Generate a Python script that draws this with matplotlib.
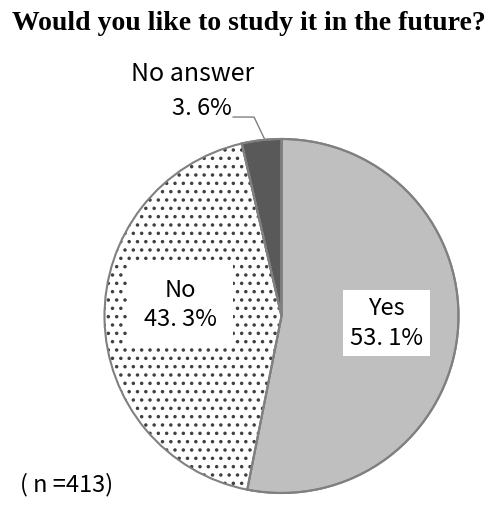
import matplotlib.pyplot as plt

plt.rcParams['font.family'] = ['Noto Sans CJK JP', 'DejaVu Sans']
plt.rcParams['hatch.linewidth'] = 1.3

labels = ['Yes', 'No', 'No answer']
values = [53.1, 43.3, 3.6]
pct_text = ['53. 1%', '43. 3%', '3. 6%']
colors = ['#bfbfbf', 'white', '#595959']
n_total = 413

W, H = 496, 505
fig = plt.figure(figsize=(W / 100, H / 100), dpi=100)

# square axes, pie radius 177px centred at (281.5, 316)
cx, cy, r = 281.5, 316, 177
half = 200
ax = fig.add_axes([(cx - half) / W, (H - cy - half) / H, 2 * half / W, 2 * half / H])
wedges, _ = ax.pie(values, colors=colors, startangle=90, counterclock=False,
                   wedgeprops=dict(edgecolor='#808080', linewidth=1.5))
# dotted fill for "No": hatch drawn in dark grey, outline redrawn on top
wedges[1].set_hatch('..')
wedges[1].set_edgecolor('#404040')
wedges[1].set_linewidth(0)
ax.pie(values, colors=['none'] * 3, startangle=90, counterclock=False,
       wedgeprops=dict(edgecolor='#808080', linewidth=1.5))
lim = half / r
ax.set_xlim(-lim, lim)
ax.set_ylim(-lim, lim)
ax.set_aspect('equal')
ax.axis('off')

fs = 17
ax.text(0.593, -0.042, labels[0] + '\n' + pct_text[0], ha='center', va='center',
        fontsize=fs, linespacing=1.35, bbox=dict(facecolor='white', edgecolor='none', pad=5))
ax.text(-0.573, 0.062, labels[1] + '\n' + pct_text[1], ha='center', va='center',
        fontsize=fs, linespacing=1.35, bbox=dict(facecolor='white', edgecolor='none', pad=12))
ax.text(-0.50, 1.367, labels[2], ha='center', va='center', fontsize=18)
ax.text(-0.449, 1.175, pct_text[2], ha='center', va='center', fontsize=fs)
ax.plot([-0.273, -0.155, -0.093], [1.124, 1.124, 0.994], color='#808080', lw=1, clip_on=False)

fig.text(248.5 / W, 1 - 30 / H, 'Would you like to study it in the future?', ha='center',
         va='baseline', fontsize=20, fontweight='bold', family='Liberation Serif')
fig.text(20 / W, 1 - 485 / H, '( n =%d)' % n_total, ha='left', va='center', fontsize=17)

fig.savefig('out.png', dpi=100)
